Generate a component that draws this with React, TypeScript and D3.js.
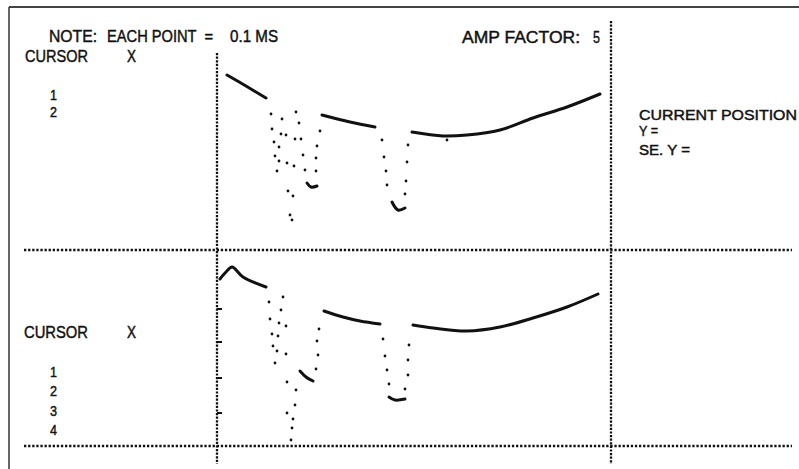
import React, { useEffect, useRef } from 'react';
import * as d3 from 'd3';

// x = sample index (each point = 0.1 ms), y = amplitude (display units)
const upperSegments: [number, number][][] = [
  [[5, 85.5], [14.5, 80], [24.5, 74]],
  [[52.5, 65.5], [66.5, 62], [79, 59.5]],
  [[45, 31.5], [47, 29.5], [50, 30]],
  [[87.5, 22], [90.5, 18], [94, 19]],
  [[97.5, 57], [113, 55], [125, 55.5], [141.5, 58], [158, 64], [175, 69.5], [191.5, 76]],
];
const upperDots: [number, number][] = [
  [27, 66], [32.5, 63.5], [39.5, 67], [41, 61.5], [27.5, 58.5], [32, 56], [34.5, 55.5],
  [39, 53.5], [42, 53.5], [51.5, 57.5], [28.5, 52], [31, 49.5], [50, 50], [29, 45],
  [31, 42.5], [35, 41.5], [43, 45.5], [49.5, 44], [30, 37.5], [38.5, 40], [44, 38],
  [49.5, 37.5], [35.5, 27.5], [38, 25], [36.5, 15.5], [37.5, 13],
  [82.5, 53], [83.5, 44.5], [84.5, 37.5], [85, 30.5],
  [94, 26], [94.5, 32.5], [95, 42], [95.5, 50.5], [115, 53],
];
const lowerSegments: [number, number][][] = [
  [[1.5, 83.5], [4.5, 87], [7.5, 89.5], [13, 84.5], [24.5, 79.5]],
  [[41.5, 37.5], [44.5, 34.5], [48, 32.5]],
  [[53.5, 67.5], [63, 64.5], [71.5, 62.5], [81.5, 61]],
  [[86, 24.5], [89, 23], [94, 23.5]],
  [[98, 60.5], [108, 59], [125, 57.5], [141.5, 59.5], [158, 64], [175, 69.5], [190.5, 76]],
];
const lowerDots: [number, number][] = [
  [26, 72], [33, 74.5], [26.5, 63.5], [32, 68], [31, 61.5], [34.5, 60], [27.5, 56],
  [30.5, 55], [28, 50], [30, 47.5], [34.5, 46], [29, 41.5], [35, 32], [39.5, 28],
  [39, 20.5], [35, 16.5], [38, 13.5], [37.5, 9], [37, 3],
  [49.5, 38.5], [50.5, 45.5], [50, 52.5], [51, 58.5],
  [83, 53.5], [84, 45], [85, 38], [86, 31],
  [94, 28.5], [95.5, 35.5], [95.5, 43], [96, 50.5],
];
const lowerTicks = [68.5, 52, 34, 16.5];
const upperCursorRows = ['1', '2'];
const lowerCursorRows = ['1', '2', '3', '4'];

const FONT = "'Liberation Sans', Arial, sans-serif";

const App = () => {
  const svgRef = useRef<SVGSVGElement>(null);

  useEffect(() => {
    const svg = d3.select(svgRef.current);
    svg.selectAll('*').remove();

    const x = d3.scaleLinear().domain([0, 197]).range([217, 611]);
    const yUp = d3.scaleLinear().domain([0, 98]).range([246, 50]);
    const yLo = d3.scaleLinear().domain([0, 97]).range([446, 252]);

    // frame
    svg.append('line').attr('x1', 9).attr('x2', 799).attr('y1', 7).attr('y2', 7)
      .attr('stroke', '#444').attr('stroke-width', 2);
    svg.append('line').attr('x1', 9).attr('x2', 9).attr('y1', 7).attr('y2', 469)
      .attr('stroke', '#333').attr('stroke-width', 1.5);

    // dotted dividers
    const dotted = (x1: number, y1: number, x2: number, y2: number, dash: string) =>
      svg.append('line').attr('x1', x1).attr('y1', y1).attr('x2', x2).attr('y2', y2)
        .attr('stroke', '#111').attr('stroke-width', 2.3).attr('stroke-dasharray', dash);
    dotted(24, 250, 792, 250, '2.3 1.8');
    dotted(24, 446, 792, 446, '2.3 1.8');
    dotted(217, 53, 217, 464, '2.2 1.4');
    dotted(611, 21, 611, 464, '2.2 1.4');

    // lower amplitude ticks
    svg.append('g').selectAll('line').data(lowerTicks).join('line')
      .attr('x1', x(0)).attr('x2', x(0) + 5)
      .attr('y1', d => yLo(d)).attr('y2', d => yLo(d))
      .attr('stroke', '#111').attr('stroke-width', 2);

    const drawTrace = (segs: [number, number][][], dots: [number, number][], y: d3.ScaleLinear<number, number>) => {
      const line = d3.line<[number, number]>()
        .x(d => x(d[0])).y(d => y(d[1]))
        .curve(d3.curveCatmullRom);
      const g = svg.append('g');
      g.selectAll('path').data(segs).join('path')
        .attr('d', d => line(d))
        .attr('fill', 'none').attr('stroke', '#111')
        .attr('stroke-width', 3).attr('stroke-linecap', 'round');
      g.selectAll('circle').data(dots).join('circle')
        .attr('cx', d => x(d[0])).attr('cy', d => y(d[1]))
        .attr('r', 1.4).attr('fill', '#111');
    };
    drawTrace(upperSegments, upperDots, yUp);
    drawTrace(lowerSegments, lowerDots, yLo);

    // labels
    const label = (t: string, px: number, py: number, w?: number, size = 17) => {
      const el = svg.append('text').attr('x', px).attr('y', py).text(t)
        .attr('font-family', FONT).attr('font-size', size)
        .attr('fill', '#111').attr('stroke', '#111').attr('stroke-width', 0.45)
        .style('white-space', 'pre');
      if (w) el.attr('textLength', w).attr('lengthAdjust', 'spacingAndGlyphs');
      return el;
    };
    label('NOTE:', 49, 42, 48);
    label('EACH POINT  =', 107, 42, 106);
    label('0.1 MS', 230, 42, 48);
    label('AMP FACTOR:', 462, 43, 118);
    label('5', 593, 43, 7);
    label('CURSOR', 25, 62, 63);
    label('X', 127, 62, 9);
    upperCursorRows.forEach((r, i) => label(r, 50, 100 + i * 17, 7, 14.5));
    label('CURSOR', 24, 338, 64);
    label('X', 127, 338, 9);
    lowerCursorRows.forEach((r, i) => label(r, 50, 377 + i * 19.3, 7, 15.5));
    label('CURRENT POSITION', 639, 120, 158, 14.5);
    label('Y =', 639, 136, 19, 14);
    label('SE. Y =', 639, 155, 51, 14);
  }, []);

  return (
    <svg ref={svgRef} width={799} height={469}
      style={{ position: 'absolute', left: 0, top: 0, background: '#fff' }} />
  );
};

export default App;
